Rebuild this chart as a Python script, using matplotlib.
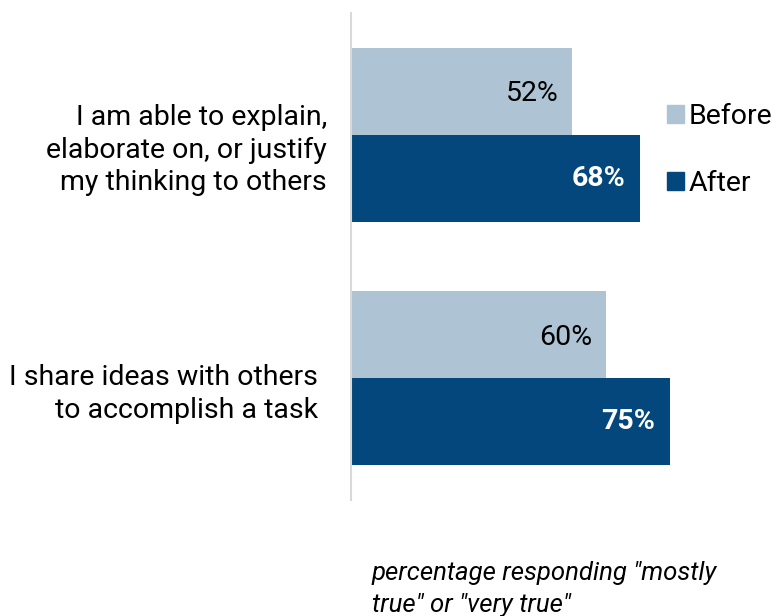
import matplotlib.pyplot as plt
from matplotlib.patches import Patch

plt.rcParams["font.family"] = ["Roboto", "DejaVu Sans"]

# survey items and before/after shares
items = ["I am able to explain,\nelaborate on, or justify\nmy thinking to others",
         "I share ideas with others\nto accomplish a task"]
before = [52, 60]
after = [68, 75]
series_names = ["Before", "After"]

c_before = "#AEC4D4"
c_after = "#03477C"

fig = plt.figure(figsize=(7.77, 6.16), dpi=100)
ax = fig.add_axes([351 / 777, 1 - 500 / 616, 423 / 777, 487 / 616])

h = 0.357
pos = list(range(len(items)))
ax.barh([p - h / 2 for p in pos], before, height=h, color=c_before)
ax.barh([p + h / 2 for p in pos], after, height=h, color=c_after)

for p, b, a in zip(pos, before, after):
    ax.text(b - 3.3, p - h / 2 + 0.01, f"{b}%", ha="right", va="center",
            fontsize=20.5, color="black")
    ax.text(a - 3.6, p + h / 2, f"{a}%", ha="right", va="center",
            fontsize=20.5, color="white", fontweight="bold")

ax.set_xlim(0, 99.4)
ax.set_ylim(1.5, -0.5)
ax.set_xticks([])
ax.set_yticks([])
for s in ["top", "right", "bottom"]:
    ax.spines[s].set_visible(False)
ax.spines["left"].set_color("#D9D9D9")
ax.spines["left"].set_linewidth(1.5)

# category labels to the left of the axis
label_x = [327, 318]
for p, txt, lx in zip(pos, items, label_x):
    fig.text(lx / 777, 1 - (135 + 244 * p + 15) / 616, txt, ha="right",
             va="center", fontsize=20.5, linespacing=1.27)

handles = [Patch(color=c_before), Patch(color=c_after)]
fig.legend(handles, series_names, loc="center left",
           bbox_to_anchor=(653 / 777, 1 - 150 / 616), frameon=False,
           fontsize=20.5, handlelength=0.6, handleheight=0.6,
           handletextpad=0.15, labelspacing=1.4, borderpad=0)

fig.text(372 / 777, 1 - 589 / 616,
         "percentage responding \"mostly\ntrue\" or \"very true\"",
         ha="left", va="center", fontsize=18.5, style="italic",
         linespacing=1.45)

fig.savefig("out.png", dpi=100)
